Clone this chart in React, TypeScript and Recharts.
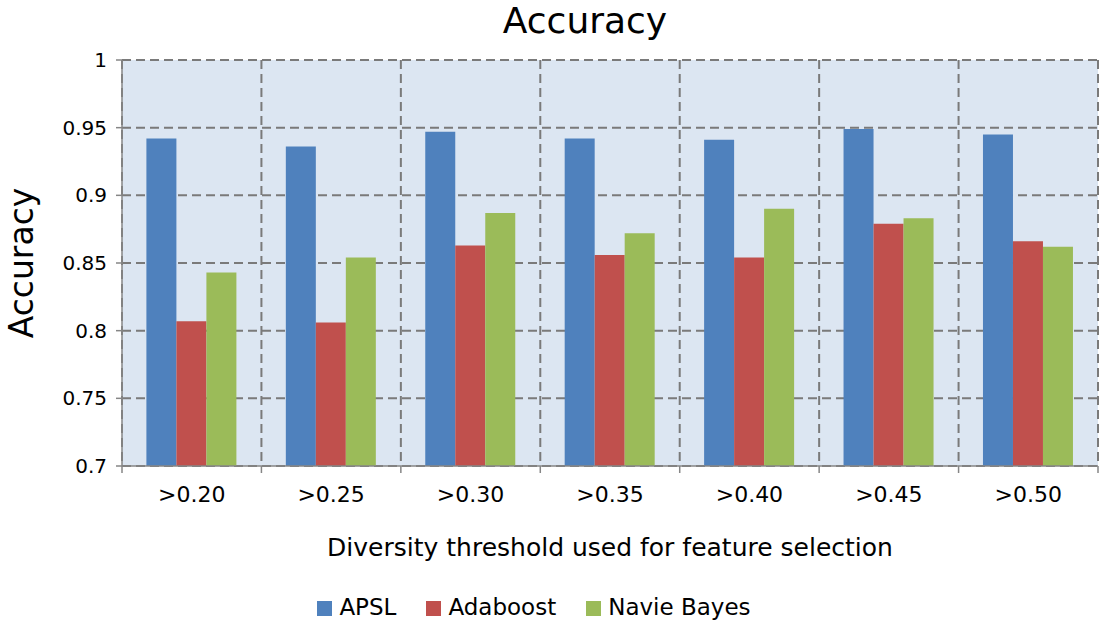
import { BarChart, Bar, XAxis, YAxis, CartesianGrid, Legend } from 'recharts'

const thresholds = ['>0.20', '>0.25', '>0.30', '>0.35', '>0.40', '>0.45', '>0.50']
const apsl = [0.942, 0.936, 0.947, 0.942, 0.941, 0.949, 0.945]
const adaboost = [0.807, 0.806, 0.863, 0.856, 0.854, 0.879, 0.866]
const navieBayes = [0.843, 0.854, 0.887, 0.872, 0.89, 0.883, 0.862]
const yTicks = [0.7, 0.75, 0.8, 0.85, 0.9, 0.95, 1]
const boundaries = [0, 1, 2, 3, 4, 5, 6, 7]

const font = '"DejaVu Sans", Verdana, sans-serif'

// 境界は目盛り線、中央はカテゴリ名
function XTick({ x, y, payload }: any) {
  const v = payload.value as number
  if (Number.isInteger(v)) {
    return <line x1={x} x2={x} y1={y} y2={y + 7} stroke="#868686" strokeWidth={1.5} />
  }
  return (
    <text x={x} y={y + 20} dy="0.71em" textAnchor="middle" fontSize={22} fill="#000" fontFamily={font}>
      {thresholds[Math.floor(v)]}
    </text>
  )
}

export default function App() {
  const data = thresholds.map((name, i) => ({
    name,
    pos: i + 0.5,
    APSL: apsl[i],
    Adaboost: adaboost[i],
    'Navie Bayes': navieBayes[i],
  }))
  const xTicks = [...boundaries, ...data.map((d) => d.pos)].sort((a, b) => a - b)

  return (
    <div style={{ position: 'absolute', left: 0, top: 0, width: 1105, height: 626, background: '#fff', fontFamily: font }}>
      <div style={{ position: 'absolute', left: 585, top: 0, transform: 'translateX(-50%)', fontSize: 36, color: '#000', whiteSpace: 'nowrap' }}>
        Accuracy
      </div>
      <BarChart
        width={1105}
        height={626}
        data={data}
        margin={{ top: 60, right: 7, left: 0, bottom: 2 }}
        barCategoryGap="17.5%"
        barGap={0}
      >
        <CartesianGrid
          xAxisId="grid"
          fill="#DCE6F2"
          stroke="#7a7a7a"
          strokeWidth={2}
          strokeDasharray="9 5"
        />
        <XAxis
          xAxisId="grid"
          orientation="top"
          dataKey="pos"
          type="number"
          domain={[0, 7]}
          ticks={boundaries}
          hide
        />
        <XAxis
          xAxisId="x"
          dataKey="pos"
          type="number"
          domain={[0, 7]}
          ticks={xTicks}
          interval={0}
          height={128}
          tickLine={false}
          tickSize={0}
          tickMargin={0}
          tick={<XTick />}
          stroke="#868686"
          strokeWidth={1.5}
          label={{ value: 'Diversity threshold used for feature selection', position: 'insideBottom', offset: 38, style: { fontSize: 25, fill: '#000', fontFamily: font } }}
        />
        <YAxis
          width={122}
          domain={[0.7, 1]}
          ticks={yTicks}
          interval={0}
          tickSize={6}
          tickMargin={9}
          stroke="#868686"
          strokeWidth={1.5}
          tickFormatter={(v: number) => String(+v.toFixed(2))}
          tick={{ fontSize: 20, fill: '#000', fontFamily: font }}
          label={{ value: 'Accuracy', angle: -90, position: 'insideLeft', offset: 21, style: { fontSize: 33, fill: '#000', fontFamily: font, textAnchor: 'middle' } }}
        />
        <Legend
          verticalAlign="bottom"
          height={30}
          iconType="square"
          iconSize={15}
          wrapperStyle={{ fontSize: 23, fontFamily: font }}
          formatter={(value: string) => <span style={{ color: '#000', marginLeft: 3, marginRight: 20 }}>{value}</span>}
        />
        <Bar xAxisId="x" dataKey="APSL" fill="#4F81BD" isAnimationActive={false} />
        <Bar xAxisId="x" dataKey="Adaboost" fill="#C0504D" isAnimationActive={false} />
        <Bar xAxisId="x" dataKey="Navie Bayes" fill="#9BBB59" isAnimationActive={false} />
      </BarChart>
    </div>
  )
}
